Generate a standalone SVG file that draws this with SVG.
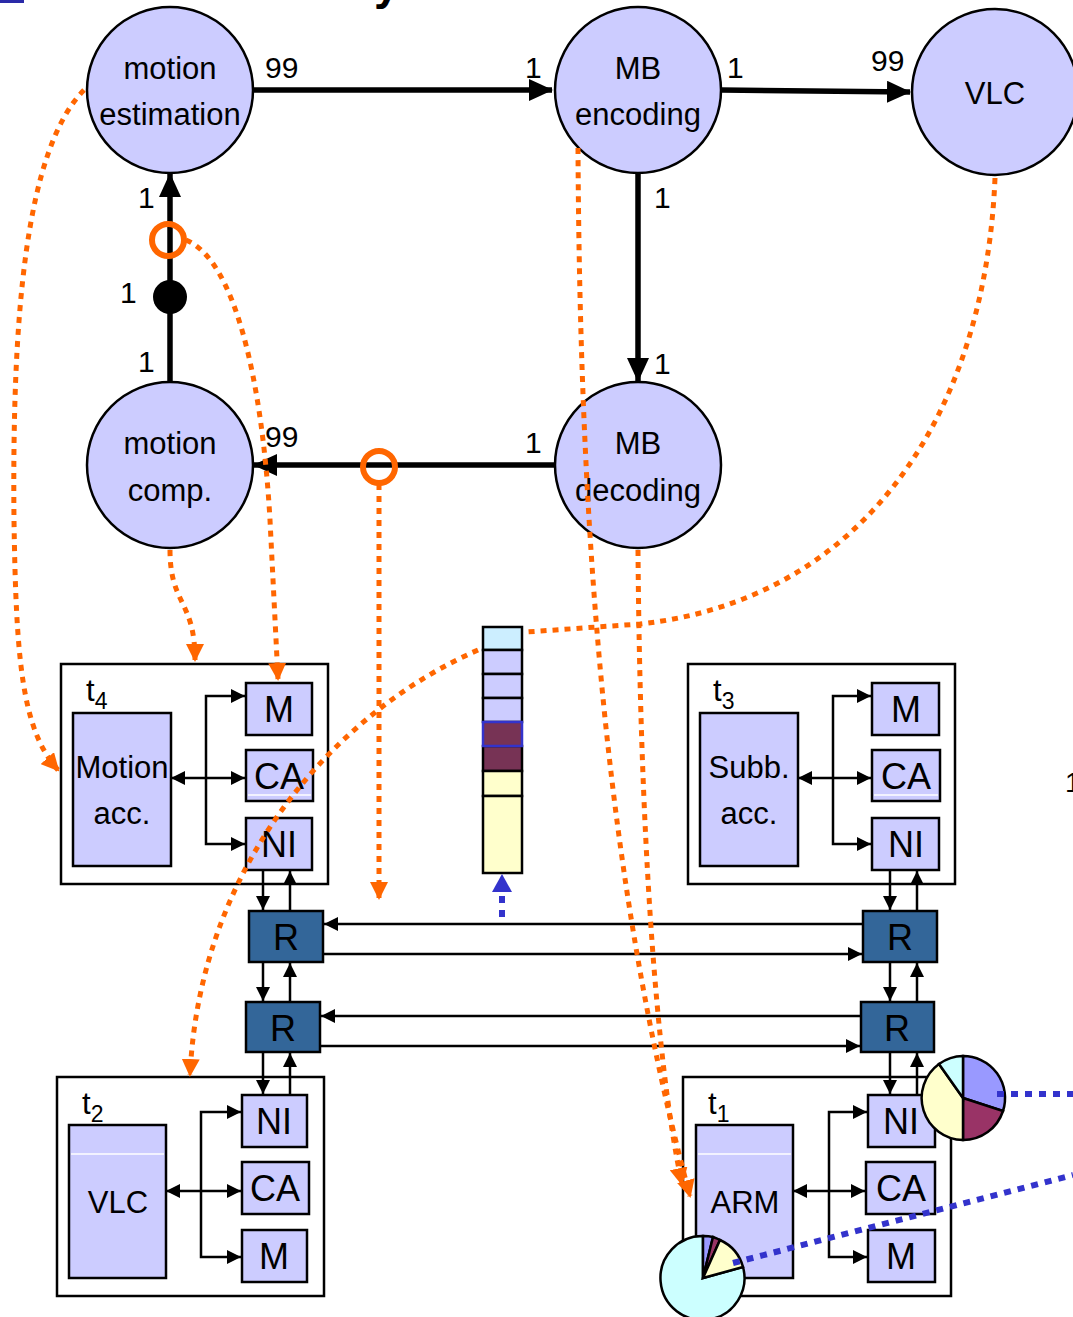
<svg xmlns="http://www.w3.org/2000/svg" width="1073" height="1317" viewBox="0 0 1073 1317">
<style>
text{font-family:"Liberation Sans",Arial,sans-serif;fill:#000}
.node{fill:#ccccff;stroke:#000;stroke-width:2.5}
.nt{font-size:31px;text-anchor:middle}
.lbl{font-size:30px}
.tile{fill:#fff;stroke:#000;stroke-width:2.5}
.blk{fill:#ccccff;stroke:#000;stroke-width:2.5}
.bt{font-size:36px;text-anchor:middle}
.pt{font-size:31px;text-anchor:middle}
.rt{fill:#336699;stroke:#000;stroke-width:2.5}
.thick{stroke:#000;stroke-width:5.5;fill:none}
.thin{stroke:#000;stroke-width:2.5;fill:none}
.org{stroke:#ff6600;stroke-width:5;fill:none;stroke-dasharray:6 6}
.blu{stroke:#3333cc;stroke-width:6;fill:none;stroke-dasharray:7 7}
.wl{stroke:#fff;stroke-width:1.5}
</style>
<defs>
<marker id="ak" markerUnits="userSpaceOnUse" markerWidth="24" markerHeight="22" refX="23" refY="11" orient="auto"><path d="M0,0 L24,11 L0,22 z" fill="#000"/></marker>
<marker id="as" markerUnits="userSpaceOnUse" markerWidth="14" markerHeight="14" refX="14" refY="7" orient="auto-start-reverse"><path d="M0,0 L14,7 L0,14 z" fill="#000"/></marker>
<marker id="ao" markerUnits="userSpaceOnUse" markerWidth="18" markerHeight="18" refX="16" refY="9" orient="auto"><path d="M0,0 L18,9 L0,18 z" fill="#ff6600"/></marker>
<marker id="ab" markerUnits="userSpaceOnUse" markerWidth="18" markerHeight="20" refX="16" refY="10" orient="auto"><path d="M0,0 L18,10 L0,20 z" fill="#3333cc"/></marker>
</defs>

<rect x="0" y="0" width="24" height="3" fill="#2a2aa8"/>
<text x="374" y="-1" style="font-size:46px;font-weight:bold">y</text>
<text x="1065" y="792" style="font-size:28px">1</text>

<!-- tiles -->
<g id="tile-t4">
<rect class="tile" x="61" y="664" width="267" height="220"/>
<text x="86" y="701" style="font-size:31px">t<tspan dy="8" style="font-size:23px">4</tspan></text>
<rect class="blk" x="73" y="713" width="98" height="153"/>
<text class="pt" x="122" y="778">Motion</text><text class="pt" x="122" y="824">acc.</text>
<rect class="blk" x="246" y="683" width="66" height="52"/><text class="bt" x="279" y="722">M</text>
<rect class="blk" x="246" y="750" width="67" height="51"/><line class="wl" x1="248" y1="795" x2="311" y2="795"/><text class="bt" x="279" y="789">CA</text>
<rect class="blk" x="246" y="818" width="66" height="52"/><text class="bt" x="279" y="857">NI</text>
</g>
<g id="tile-t3">
<rect class="tile" x="688" y="664" width="267" height="220"/>
<text x="713" y="701" style="font-size:31px">t<tspan dy="8" style="font-size:23px">3</tspan></text>
<rect class="blk" x="700" y="713" width="98" height="153"/>
<text class="pt" x="749" y="778">Subb.</text><text class="pt" x="749" y="824">acc.</text>
<rect class="blk" x="872" y="683" width="67" height="52"/><text class="bt" x="906" y="722">M</text>
<rect class="blk" x="872" y="750" width="68" height="51"/><line class="wl" x1="874" y1="795" x2="938" y2="795"/><text class="bt" x="906" y="789">CA</text>
<rect class="blk" x="872" y="818" width="67" height="52"/><text class="bt" x="906" y="857">NI</text>
</g>
<g id="tile-t2">
<rect class="tile" x="57" y="1077" width="267" height="219"/>
<text x="82" y="1114" style="font-size:31px">t<tspan dy="8" style="font-size:23px">2</tspan></text>
<rect class="blk" x="69" y="1125" width="97" height="153"/><line class="wl" x1="71" y1="1154" x2="164" y2="1154"/>
<text class="pt" x="118" y="1213">VLC</text>
<rect class="blk" x="242" y="1095" width="65" height="52"/><text class="bt" x="274" y="1134">NI</text>
<rect class="blk" x="242" y="1162" width="67" height="52"/><text class="bt" x="275" y="1201">CA</text>
<rect class="blk" x="242" y="1230" width="65" height="52"/><text class="bt" x="274" y="1269">M</text>
</g>
<g id="tile-t1">
<rect class="tile" x="683" y="1077" width="268" height="219"/>
<text x="708" y="1114" style="font-size:31px">t<tspan dy="8" style="font-size:23px">1</tspan></text>
<rect class="blk" x="696" y="1125" width="97" height="153"/><line class="wl" x1="698" y1="1154" x2="791" y2="1154"/>
<text class="pt" x="745" y="1213">ARM</text>
<rect class="blk" x="868" y="1095" width="67" height="52"/><text class="bt" x="901" y="1134">NI</text>
<rect class="blk" x="866" y="1162" width="69" height="52"/><text class="bt" x="901" y="1201">CA</text>
<rect class="blk" x="868" y="1230" width="67" height="52"/><text class="bt" x="901" y="1269">M</text>
</g>

<!-- routers -->
<g id="router-1"><rect class="rt" x="249" y="911" width="74" height="51"/><text class="bt" x="286" y="950">R</text></g>
<g id="router-2"><rect class="rt" x="246" y="1002" width="74" height="50"/><text class="bt" x="283" y="1041">R</text></g>
<g id="router-3"><rect class="rt" x="863" y="911" width="74" height="51"/><text class="bt" x="900" y="950">R</text></g>
<g id="router-4"><rect class="rt" x="861" y="1002" width="73" height="50"/><text class="bt" x="897" y="1041">R</text></g>

<!-- FIFO -->
<g id="fifo" stroke="#000" stroke-width="2.5">
<rect x="483" y="627" width="39" height="23" fill="#cceeff"/>
<rect x="483" y="650" width="39" height="24" fill="#ccccff"/>
<rect x="483" y="674" width="39" height="24" fill="#ccccff"/>
<rect x="483" y="698" width="39" height="24" fill="#ccccff"/>
<rect x="483" y="746" width="39" height="25" fill="#773355"/>
<rect x="483" y="771" width="39" height="25" fill="#ffffcc"/>
<rect x="483" y="796" width="39" height="77" fill="#ffffcc"/>
<rect x="483" y="722" width="39" height="24" fill="#773355" stroke="#3333cc"/>
</g>

<!-- process nodes -->
<g id="node-me"><circle class="node" cx="170" cy="90" r="83"/><text class="nt" x="170" y="79">motion</text><text class="nt" x="170" y="125">estimation</text></g>
<g id="node-mbenc"><circle class="node" cx="638" cy="90" r="83"/><text class="nt" x="638" y="79">MB</text><text class="nt" x="638" y="125">encoding</text></g>
<g id="node-vlc"><circle class="node" cx="995" cy="92" r="83"/><text class="nt" x="995" y="104">VLC</text></g>
<g id="node-mc"><circle class="node" cx="170" cy="465" r="83"/><text class="nt" x="170" y="454">motion</text><text class="nt" x="170" y="501">comp.</text></g>
<g id="node-mbdec"><circle class="node" cx="638" cy="465" r="83"/><text class="nt" x="638" y="454">MB</text><text class="nt" x="638" y="501">decoding</text></g>

<!-- connectors -->
<g id="connectors">
<line class="thick" x1="253" y1="90" x2="552" y2="90" marker-end="url(#ak)"/>
<line class="thick" x1="721" y1="90" x2="910" y2="92" marker-end="url(#ak)"/>
<line class="thick" x1="638" y1="173" x2="638" y2="381" marker-end="url(#ak)"/>
<line class="thick" x1="555" y1="465" x2="254" y2="465" marker-end="url(#ak)"/>
<line class="thick" x1="170" y1="382" x2="170" y2="174" marker-end="url(#ak)"/>
<circle cx="170" cy="297" r="17" fill="#000"/>
<text class="lbl" x="265" y="78">99</text>
<text class="lbl" x="525" y="78">1</text>
<text class="lbl" x="727" y="78">1</text>
<text class="lbl" x="871" y="71">99</text>
<text class="lbl" x="654" y="208">1</text>
<text class="lbl" x="654" y="374">1</text>
<text class="lbl" x="525" y="453">1</text>
<text class="lbl" x="265" y="447">99</text>
<text class="lbl" x="138" y="208">1</text>
<text class="lbl" x="120" y="303">1</text>
<text class="lbl" x="138" y="372">1</text>

<!-- tile internal buses -->
<polyline class="thin" points="245,696 206,696 206,844 245,844" marker-start="url(#as)" marker-end="url(#as)"/>
<line class="thin" x1="171" y1="778" x2="245" y2="778" marker-start="url(#as)" marker-end="url(#as)"/>
<polyline class="thin" points="871,696 833,696 833,844 871,844" marker-start="url(#as)" marker-end="url(#as)"/>
<line class="thin" x1="798" y1="778" x2="871" y2="778" marker-start="url(#as)" marker-end="url(#as)"/>
<polyline class="thin" points="241,1112 201,1112 201,1257 241,1257" marker-start="url(#as)" marker-end="url(#as)"/>
<line class="thin" x1="166" y1="1191" x2="241" y2="1191" marker-start="url(#as)" marker-end="url(#as)"/>
<polyline class="thin" points="867,1112 829,1112 829,1257 867,1257" marker-start="url(#as)" marker-end="url(#as)"/>
<line class="thin" x1="793" y1="1191" x2="865" y2="1191" marker-start="url(#as)" marker-end="url(#as)"/>

<!-- router links -->
<line class="thin" x1="263" y1="870" x2="263" y2="910" marker-end="url(#as)"/>
<line class="thin" x1="290" y1="911" x2="290" y2="871" marker-end="url(#as)"/>
<line class="thin" x1="263" y1="962" x2="263" y2="1001" marker-end="url(#as)"/>
<line class="thin" x1="290" y1="1002" x2="290" y2="963" marker-end="url(#as)"/>
<line class="thin" x1="263" y1="1052" x2="263" y2="1094" marker-end="url(#as)"/>
<line class="thin" x1="290" y1="1095" x2="290" y2="1053" marker-end="url(#as)"/>
<line class="thin" x1="890" y1="870" x2="890" y2="910" marker-end="url(#as)"/>
<line class="thin" x1="917" y1="911" x2="917" y2="871" marker-end="url(#as)"/>
<line class="thin" x1="890" y1="962" x2="890" y2="1001" marker-end="url(#as)"/>
<line class="thin" x1="917" y1="1002" x2="917" y2="963" marker-end="url(#as)"/>
<line class="thin" x1="890" y1="1052" x2="890" y2="1094" marker-end="url(#as)"/>
<line class="thin" x1="917" y1="1095" x2="917" y2="1053" marker-end="url(#as)"/>
<line class="thin" x1="863" y1="924" x2="324" y2="924" marker-end="url(#as)"/>
<line class="thin" x1="323" y1="954" x2="862" y2="954" marker-end="url(#as)"/>
<line class="thin" x1="861" y1="1016" x2="321" y2="1016" marker-end="url(#as)"/>
<line class="thin" x1="320" y1="1046" x2="860" y2="1046" marker-end="url(#as)"/>

<!-- orange mapping curves -->
<path class="org" d="M84,90 C25,150 12,320 14,520 C16,660 22,730 58,770" marker-end="url(#ao)"/>
<path class="org" d="M186,240 C235,260 262,380 270,520 L278,679" marker-end="url(#ao)"/>
<path class="org" d="M170,550 C170,605 195,600 195,660" marker-end="url(#ao)"/>
<path class="org" d="M379,484 L379,898" marker-end="url(#ao)"/>
<path class="org" d="M995,178 C985,420 860,600 640,624 L526,632"/>
<path class="org" d="M478,650 C340,710 200,860 190,1075" marker-end="url(#ao)"/>
<path class="org" d="M578,148 C580,560 610,900 690,1196" marker-end="url(#ao)"/>
<path class="org" d="M638,550 C640,820 655,1060 682,1184" marker-end="url(#ao)"/>
<circle cx="168" cy="240" r="16" fill="none" stroke="#ff6600" stroke-width="6"/>
<circle cx="379" cy="467" r="16" fill="none" stroke="#ff6600" stroke-width="6"/>

<!-- blue -->
<path class="blu" d="M502,917 L502,876" marker-end="url(#ab)"/>
</g>

<!-- pie charts -->
<g id="pie-1" stroke="#000" stroke-width="2.5">
<path d="M963,1098 L963,1056 A42,42 0 0 1 1003,1111 Z" fill="#9999ff"/>
<path d="M963,1098 L1003,1111 A42,42 0 0 1 963,1140 Z" fill="#993366"/>
<path d="M963,1098 L963,1140 A42,42 0 0 1 939,1064 Z" fill="#ffffcc"/>
<path d="M963,1098 L939,1064 A42,42 0 0 1 963,1056 Z" fill="#ccffff"/>
</g>
<g id="pie-2" stroke="#000" stroke-width="2.5">
<path d="M703,1278 L743,1267 A42,42 0 1 1 703,1236 Z" fill="#ccffff"/>
<path d="M703,1278 L703,1236 A42,42 0 0 1 713,1237 Z" fill="#9999ff"/>
<path d="M703,1278 L713,1237 A42,42 0 0 1 720,1240 Z" fill="#993366"/>
<path d="M703,1278 L720,1240 A42,42 0 0 1 743,1267 Z" fill="#ffffcc"/>
</g>
<g id="pie-links">
<path class="blu" d="M997,1094 L1073,1094"/>
<path class="blu" d="M733,1263 L1073,1175"/>
</g>
</svg>
